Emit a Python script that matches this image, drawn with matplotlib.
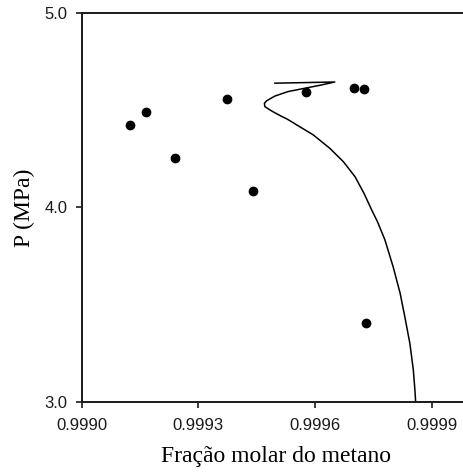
import matplotlib
matplotlib.use('Agg')
import matplotlib.pyplot as plt
from matplotlib.ticker import FixedLocator, FormatStrFormatter

# Experimental points: methane mole fraction vs pressure
x_exp = [0.999124, 0.999165, 0.999240, 0.999375, 0.999441, 0.999577, 0.999700, 0.999727, 0.999730]
p_exp = [4.423, 4.492, 4.254, 4.559, 4.083, 4.593, 4.613, 4.607, 3.407]

# Calculated envelope (single polyline, upper branch then lower branch)
x_calc = [0.999497, 0.999651, 0.999617, 0.999574, 0.999531, 0.999497, 0.999476, 0.999470,
          0.999471, 0.999484, 0.999496, 0.999512, 0.999530, 0.999553, 0.999596, 0.999638,
          0.999673, 0.999703, 0.999726, 0.999746, 0.999761, 0.999780, 0.999801, 0.999819,
          0.999831, 0.999844, 0.999853, 0.999857, 0.999859]
p_calc = [4.638, 4.644, 4.629, 4.612, 4.595, 4.572, 4.548, 4.535,
          4.518, 4.501, 4.487, 4.470, 4.452, 4.424, 4.372, 4.304,
          4.235, 4.158, 4.073, 3.987, 3.926, 3.833, 3.696, 3.560,
          3.440, 3.303, 3.166, 3.063, 3.000]

x_ticks = [0.9990, 0.9993, 0.9996, 0.9999]
y_ticks = [3.0, 4.0, 5.0]

fig = plt.figure(figsize=(4.64, 4.74), dpi=100)
ax = fig.add_axes([0.176, 0.1513, 0.838, 0.822])

ax.plot(x_calc, p_calc, color='black', lw=1.1, solid_joinstyle='round')
ax.plot(x_exp, p_exp, 'o', color='black', ms=6, mec='black')

ax.set_xlim(0.9990, 1.0)
ax.set_ylim(3.0, 5.0)
ax.xaxis.set_major_locator(FixedLocator(x_ticks))
ax.yaxis.set_major_locator(FixedLocator(y_ticks))
ax.xaxis.set_major_formatter(FormatStrFormatter('%.4f'))
ax.yaxis.set_major_formatter(FormatStrFormatter('%.1f'))

ax.spines['right'].set_visible(False)
for s in ax.spines.values():
    s.set_linewidth(1.4)
    s.set_color('#1a1a1a')

ax.tick_params(direction='out', length=4, width=1.2, color='#1a1a1a',
               labelsize=12, labelcolor='#1a1a1a')
ax.tick_params(axis='x', pad=7)
ax.tick_params(axis='y', pad=6)
for lab in ax.get_xticklabels() + ax.get_yticklabels():
    lab.set_family('Liberation Sans')

ax.set_xlabel('Fração molar do metano', family='Liberation Serif', fontsize=17)
ax.set_ylabel('P (MPa)', family='Liberation Serif', fontsize=17)
ax.xaxis.set_label_coords(0.50, -0.112)
ax.yaxis.set_label_coords(-0.12, 0.5)

fig.savefig('out.png', dpi=100)
